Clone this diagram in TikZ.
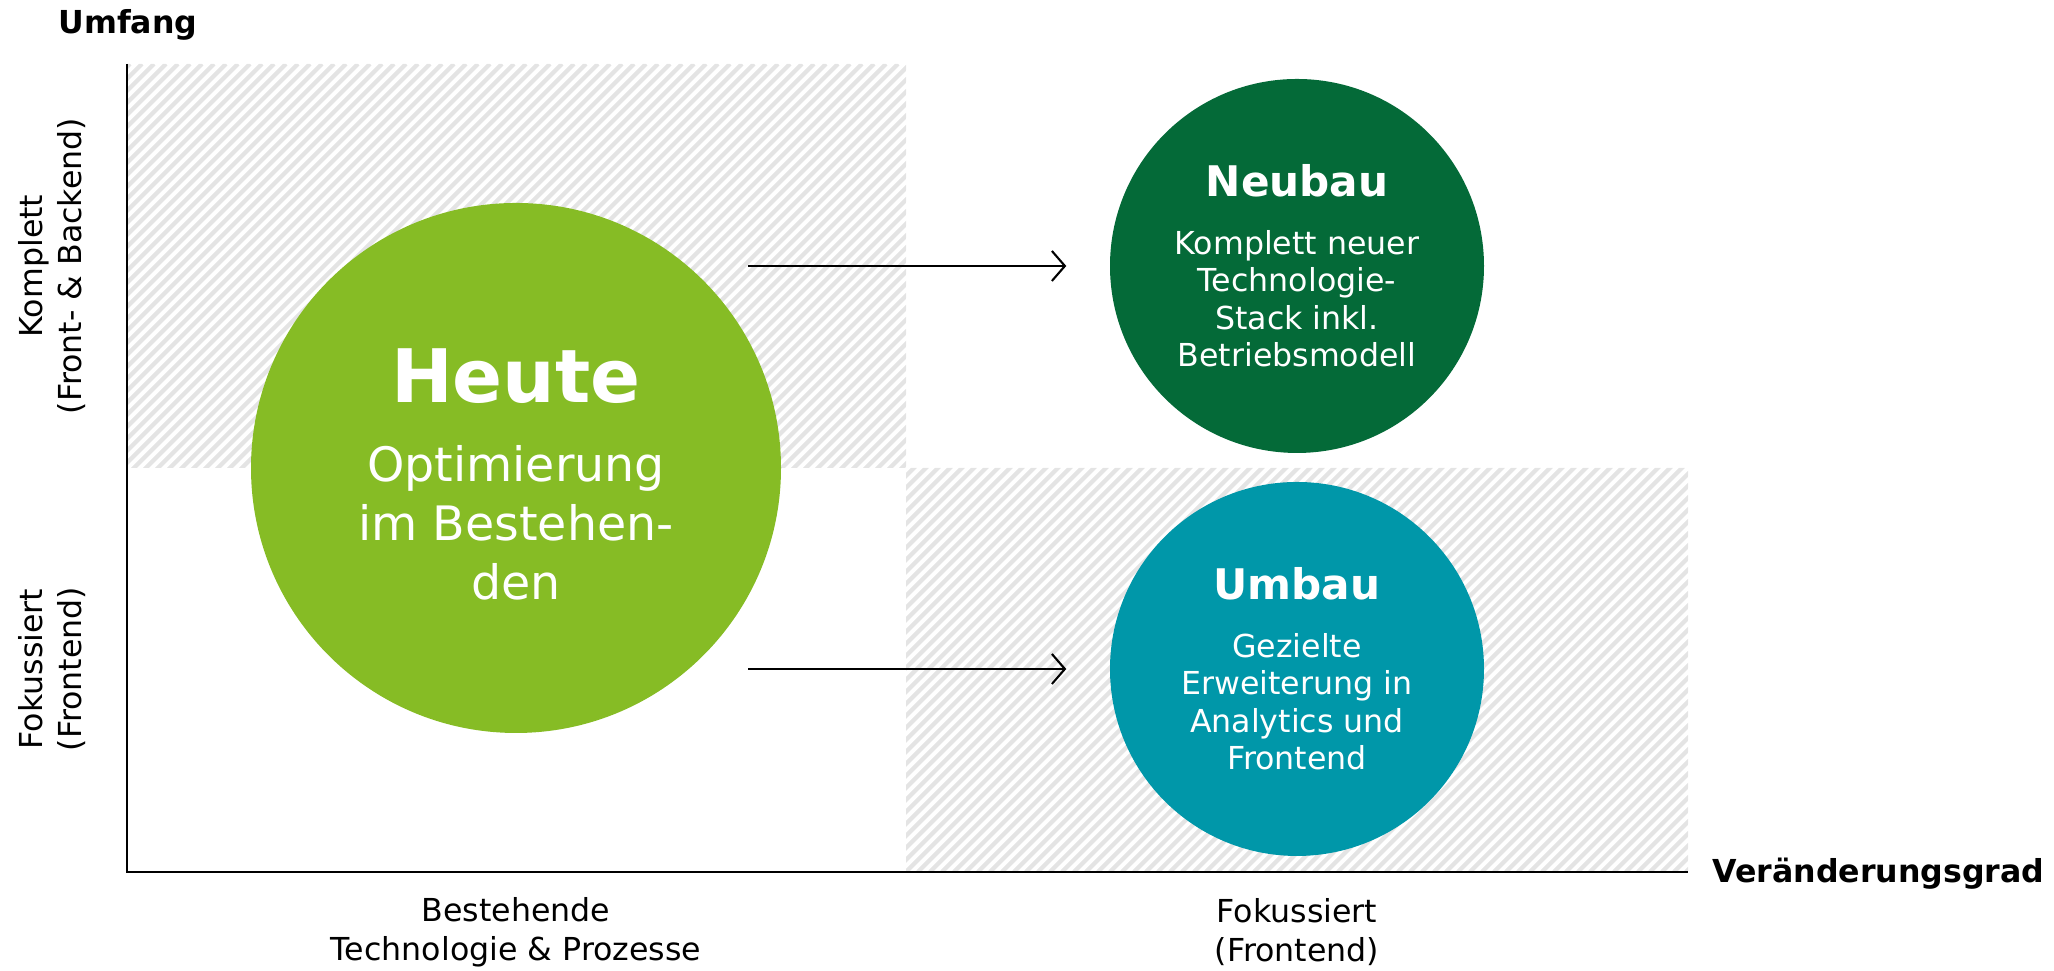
\documentclass[tikz,border=0pt]{standalone}
\usepackage{fontspec}
\setmainfont{DejaVu Sans}
\usetikzlibrary{arrows.meta}
\definecolor{heutegreen}{HTML}{86BC25}
\definecolor{neubaugreen}{HTML}{046A38}
\definecolor{umbaublue}{HTML}{0097A9}
\definecolor{hatchgray}{HTML}{E4E4E4}
\tikzstyle{bubble} = [circle, inner sep=0pt, text=white, align=center]
\tikzstyle{axislabel} = [align=center, font=\fontsize{9}{11}\selectfont]
\tikzstyle{axistitle} = [font=\bfseries\fontsize{9}{11}\selectfont]
\tikzstyle{arrow} = [line width=0.6pt, -{Straight Barb[length=1.3mm, width=3mm]}]
\tikzstyle{hatch} = [hatchgray, line width=1.2pt]
\tikzstyle{axis} = [line width=0.6pt]

\begin{document}
\begin{tikzpicture}
        \useasboundingbox (0,0) rectangle (20.54,9.71);
        % schraffierte Felder
        \begin{scope}
            \clip (1.27,5.03) rectangle (9.06,9.07) (9.06,0.99) rectangle (16.88,5.03);
            \foreach \i in {0,...,200}
                \draw[hatch] (-6.9+\i*0.12,0.99) --++(8.08,8.08);
        \end{scope}
        \draw[axis] (1.27,9.07) -- (1.27,0.99) -- (16.88,0.99);

        \node (umfang) [axistitle] at (1.28,9.46) {Umfang};
        \node (grad) [axistitle, anchor=west] at (17.0,0.97) {Veränderungsgrad};
        \node (komplett) [axislabel, rotate=90] at (0.52,7.05) {Komplett\\(Front- \& Backend)};
        \node (fokusy) [axislabel, rotate=90] at (0.52,3.02) {Fokussiert\\(Frontend)};
        \node (bestehend) [axislabel] at (5.16,0.39) {Bestehende\\Technologie \& Prozesse};
        \node (fokusx) [axislabel] at (12.97,0.39) {Fokussiert\\(Frontend)};

        \node (heute) [bubble, fill=heutegreen, minimum size=5.3cm, font=\fontsize{13.5}{16.8}\selectfont] at (5.16,5.03)
            {{\bfseries\fontsize{21}{25}\selectfont\rule{0pt}{19pt}Heute}\\[2mm]Optimierung\\im Bestehen-\\den};
        \node (neubau) [bubble, fill=neubaugreen, minimum size=3.74cm, font=\fontsize{9}{10.7}\selectfont] at (12.97,7.05)
            {{\bfseries\fontsize{12}{14}\selectfont Neubau}\\[2mm]Komplett neuer\\Technologie-\\Stack inkl.\\Betriebsmodell};
        \node (umbau) [bubble, fill=umbaublue, minimum size=3.74cm, font=\fontsize{9}{10.7}\selectfont] at (12.97,3.02)
            {{\bfseries\fontsize{12}{14}\selectfont Umbau}\\[2mm]Gezielte\\Erweiterung in\\Analytics und\\Frontend};

        \coordinate (start1) at (7.48,7.05);
        \coordinate (start2) at (7.48,3.02);
        \draw[arrow] (start1) -- ([xshift=-4.3mm]neubau.west);
        \draw[arrow] (start2) -- ([xshift=-4.3mm]umbau.west);
    \end{tikzpicture}
\end{document}
